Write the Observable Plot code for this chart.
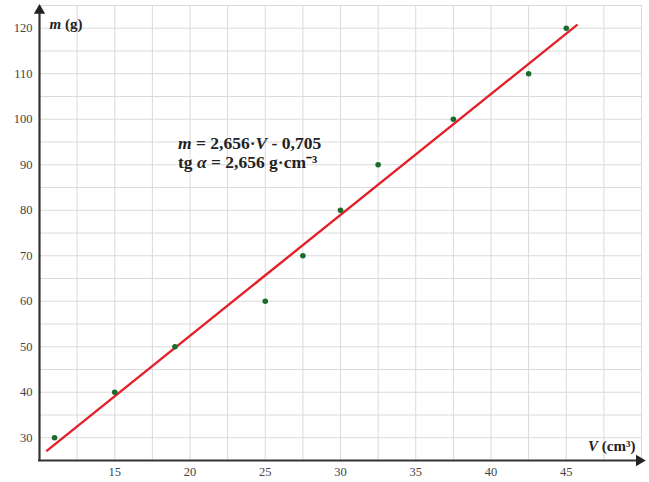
<!DOCTYPE html>
<html>
<head>
<meta charset="utf-8">
<script src="https://cdn.jsdelivr.net/npm/d3@7"></script>
<script src="https://cdn.jsdelivr.net/npm/@observablehq/plot@0.6"></script>
<style>
  html, body { margin: 0; padding: 0; background: #fff; }
  #chart svg { display: block; }
</style>
</head>
<body>
<div id="chart"></div>
<script>
// Measured data: volume V (cm³) and mass m (g)
const volumes = [11, 15, 19, 25, 27.5, 30, 32.5, 37.5, 42.5, 45];
const masses  = [30, 40, 50, 60, 70, 80, 90, 100, 110, 120];

// Fitted line m = slope·V + intercept
const slope = 2.656;
const intercept = -0.705;
const fitRange = [10.5, 45.7];

// Axis ticks
const xTicks = [15, 20, 25, 30, 35, 40, 45];
const yTicks = [30, 40, 50, 60, 70, 80, 90, 100, 110, 120];
const xGrid = d3.range(10, 50.01, 2.5);
const yGrid = d3.range(25, 125.01, 5);

const points = volumes.map((v, i) => ({V: v, m: masses[i]}));
const fit = fitRange.map(v => ({V: v, m: slope * v + intercept}));

// Annotation anchors (data units)
const eqAnchor = [{V: 19.2, m: 94.6}, {V: 19.2, m: 90.5}];

const serif = "'Liberation Serif', 'Times New Roman', Times, serif";

const plot = Plot.plot({
  width: 649,
  height: 482,
  marginLeft: 39,
  marginRight: 8,
  marginTop: 5,
  marginBottom: 22,
  style: {fontFamily: serif, background: "#fff"},
  x: {domain: [10, 50]},
  y: {domain: [25, 125]},
  marks: [
    Plot.ruleX(xGrid, {stroke: "#dadada", strokeWidth: 1}),
    Plot.ruleY(yGrid, {stroke: "#dadada", strokeWidth: 1}),
    Plot.axisX(xTicks, {tickSize: 0, tickPadding: 7, fontSize: 12.5, fontFamily: serif, fill: "#444", label: null}),
    Plot.axisY(yTicks, {tickSize: 0, tickPadding: 7, fontSize: 12.5, fontFamily: serif, fill: "#444", label: null}),
    Plot.line(fit, {x: "V", y: "m", stroke: "#e3212b", strokeWidth: 2.4}),
    Plot.dot(points, {x: "V", y: "m", r: 2.8, fill: "#1b6b2c", stroke: "none"}),
    // axes with arrowheads
    Plot.ruleX([10], {y1: 25, y2: 124, stroke: "#333", strokeWidth: 2.2}),
    Plot.ruleY([25], {x1: 9.93, x2: 49.8, stroke: "#333", strokeWidth: 2.2}),
    Plot.dot([{V: 10, m: 123.9}], {x: "V", y: "m", symbol: "triangle", r: 4.2, fill: "#222", stroke: "none"}),
    Plot.dot([{V: 49.85, m: 25}], {x: "V", y: "m", symbol: "triangle", rotate: 90, r: 4.2, fill: "#222", stroke: "none"}),
    Plot.text(["m (g)"], {frameAnchor: "top-left", dx: 10, dy: 13, fontSize: 15, fontWeight: "bold", fontFamily: serif, fill: "#222", className: "lab-m", textAnchor: "start"}),
    Plot.text(["V (cm³)"], {frameAnchor: "bottom-right", dx: -6, dy: -10, fontSize: 15, fontWeight: "bold", fontFamily: serif, fill: "#222", className: "lab-v", textAnchor: "end"}),
    Plot.text(["m = 2,656·V - 0,705", "tg α = 2,656 g·cm⁻³"], {x: (d, i) => eqAnchor[i].V, y: (d, i) => eqAnchor[i].m, fontSize: 17.5, fontWeight: "bold", fontFamily: serif, fill: "#222", className: "eq", textAnchor: "start"})
  ]
});

document.getElementById("chart").appendChild(plot);

// Italicize variable symbols
function styleText(sel, parts) {
  const t = d3.select(sel);
  t.text(null);
  parts.forEach(([s, italic]) => {
    const ts = t.append("tspan").text(s);
    if (italic) ts.attr("font-style", "italic");
  });
}
styleText(plot.querySelector("g.lab-m text"), [["m", true], [" (g)", false]]);
styleText(plot.querySelector("g.lab-v text"), [["V", true], [" (cm³)", false]]);
const eqs = plot.querySelectorAll("g.eq text");
styleText(eqs[0], [["m", true], [" = 2,656·", false], ["V", true], [" - 0,705", false]]);
styleText(eqs[1], [["tg ", false], ["α", true], [" = 2,656 g·cm⁻³", false]]);
</script>
</body>
</html>
